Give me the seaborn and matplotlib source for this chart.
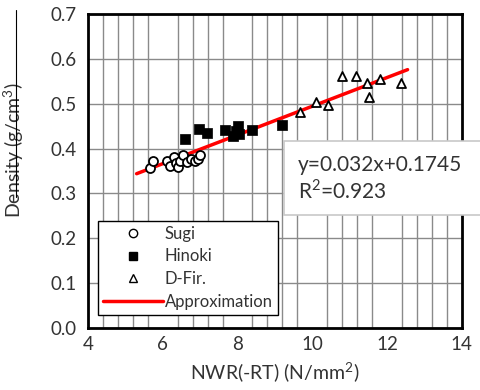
import matplotlib
matplotlib.use("Agg")
import matplotlib.pyplot as plt
import seaborn as sns
import numpy as np
import pandas as pd
from matplotlib.lines import Line2D
from matplotlib.patches import Rectangle

sugi_x = [5.65, 5.75, 6.1, 6.2, 6.3, 6.35, 6.4, 6.45, 6.55, 6.65, 6.75, 6.85, 6.95, 7.0]
sugi_y = [0.356, 0.372, 0.372, 0.362, 0.381, 0.368, 0.360, 0.372, 0.385, 0.370, 0.376, 0.372, 0.377, 0.385]
hinoki_x = [6.6, 6.98, 7.18, 7.67, 7.89, 8.0, 8.05, 7.95, 8.38, 9.19]
hinoki_y = [0.422, 0.443, 0.435, 0.441, 0.428, 0.450, 0.432, 0.440, 0.441, 0.452]
dfir_x = [9.66, 10.1, 10.43, 10.79, 11.18, 11.46, 11.53, 11.82, 12.37]
dfir_y = [0.482, 0.503, 0.497, 0.561, 0.562, 0.547, 0.516, 0.556, 0.547]
fit_x = [5.3, 12.55]
fit_y = [0.344, 0.576]
x_ticks = [4, 6, 8, 10, 12, 14]
y_ticks = [0.0, 0.1, 0.2, 0.3, 0.4, 0.5, 0.6, 0.7]
equation = "y=0.032x+0.1745\nR$^2$=0.923"

sns.set_style("white")
plt.rcParams['font.family'] = ['Lato', 'DejaVu Sans']
plt.rcParams['mathtext.fontset'] = 'custom'
plt.rcParams['mathtext.rm'] = 'Lato'

fig = plt.figure(figsize=(4.81, 3.90), dpi=100)
ax = fig.add_axes([0.183, 0.159, 0.777, 0.805])

ax.set_xlim(4, 14)
ax.set_ylim(0, 0.7)
ax.set_xticks(x_ticks)
ax.set_yticks(y_ticks)
ax.set_xticklabels([str(t) for t in x_ticks], fontsize=13.5, color='#333333')
ax.set_yticklabels([f"{t:.1f}" for t in y_ticks], fontsize=13.5, color='#333333')
ax.set_xticks(np.arange(4, 14.01, 0.4), minor=True)
ax.grid(True, which='major', axis='y', color='#8a8a8a', linewidth=1.0)
ax.grid(True, which='minor', axis='x', color='#8a8a8a', linewidth=1.0)
ax.tick_params(which='both', length=0)
ax.tick_params(axis='x', pad=6)
ax.tick_params(axis='y', pad=8)
for s in ax.spines.values():
    s.set_color('black')
    s.set_linewidth(2.0)
ax.set_axisbelow(True)

df_s = pd.DataFrame({'x': sugi_x, 'y': sugi_y})
df_h = pd.DataFrame({'x': hinoki_x, 'y': hinoki_y})
df_d = pd.DataFrame({'x': dfir_x, 'y': dfir_y})
df_f = pd.DataFrame({'x': fit_x, 'y': fit_y})

sns.lineplot(data=df_f, x='x', y='y', ax=ax, color='#ff0000', linewidth=2.5, zorder=2)
sns.scatterplot(data=df_s, x='x', y='y', ax=ax, marker='o', s=42, facecolor='white',
                edgecolor='black', linewidth=1.3, zorder=3)
sns.scatterplot(data=df_h, x='x', y='y', ax=ax, marker='s', s=50, color='black',
                edgecolor='black', linewidth=0.5, zorder=3)
sns.scatterplot(data=df_d, x='x', y='y', ax=ax, marker='^', s=42, facecolor='white',
                edgecolor='black', linewidth=1.3, zorder=3)

ax.set_xlabel("NWR(-RT) (N/mm$^2$)", fontsize=14, color='#333333', labelpad=5)
ax.set_ylabel("Density (g/cm$^3$)", fontsize=14, color='#333333')
ax.yaxis.set_label_coords(-0.165, 0.568)

handles = [
    Line2D([], [], marker='o', linestyle='none', markerfacecolor='white', markeredgecolor='black', markersize=6, markeredgewidth=1.0),
    Line2D([], [], marker='s', linestyle='none', markerfacecolor='black', markeredgecolor='black', markersize=6),
    Line2D([], [], marker='^', linestyle='none', markerfacecolor='white', markeredgecolor='black', markersize=6, markeredgewidth=1.0),
    Line2D([], [], color='#ff0000', linewidth=2.5),
]
leg = ax.legend(handles, ['Sugi', 'Hinoki', 'D-Fir.', 'Approximation'],
                loc='lower left', bbox_to_anchor=(0.027, 0.042), fontsize=12,
                frameon=True, fancybox=False, edgecolor='black', framealpha=1,
                handlelength=3.6, handletextpad=0.1, labelspacing=0.4,
                borderpad=0.3, borderaxespad=0)
leg.get_frame().set_linewidth(1.0)
for t in leg.get_texts():
    t.set_color('#333333')

# equation box (extends beyond the axes)
box = Rectangle((284 / 481, (390 - 215) / 390), 197 / 481, 74 / 390,
                transform=fig.transFigure, facecolor='white', edgecolor='#c8c8c8',
                linewidth=1.2, zorder=5)
fig.add_artist(box)
fig.text(298 / 481, (390 - 179) / 390, equation, fontsize=15, color='#333333',
         va='center', ha='left', linespacing=1.2, zorder=6)

# thin line at upper left
fig.add_artist(Line2D([16 / 481, 16 / 481], [1 - 10 / 390, 1 - 197 / 390],
                      transform=fig.transFigure, color='black', linewidth=0.8))

fig.savefig("out.png", dpi=100)
